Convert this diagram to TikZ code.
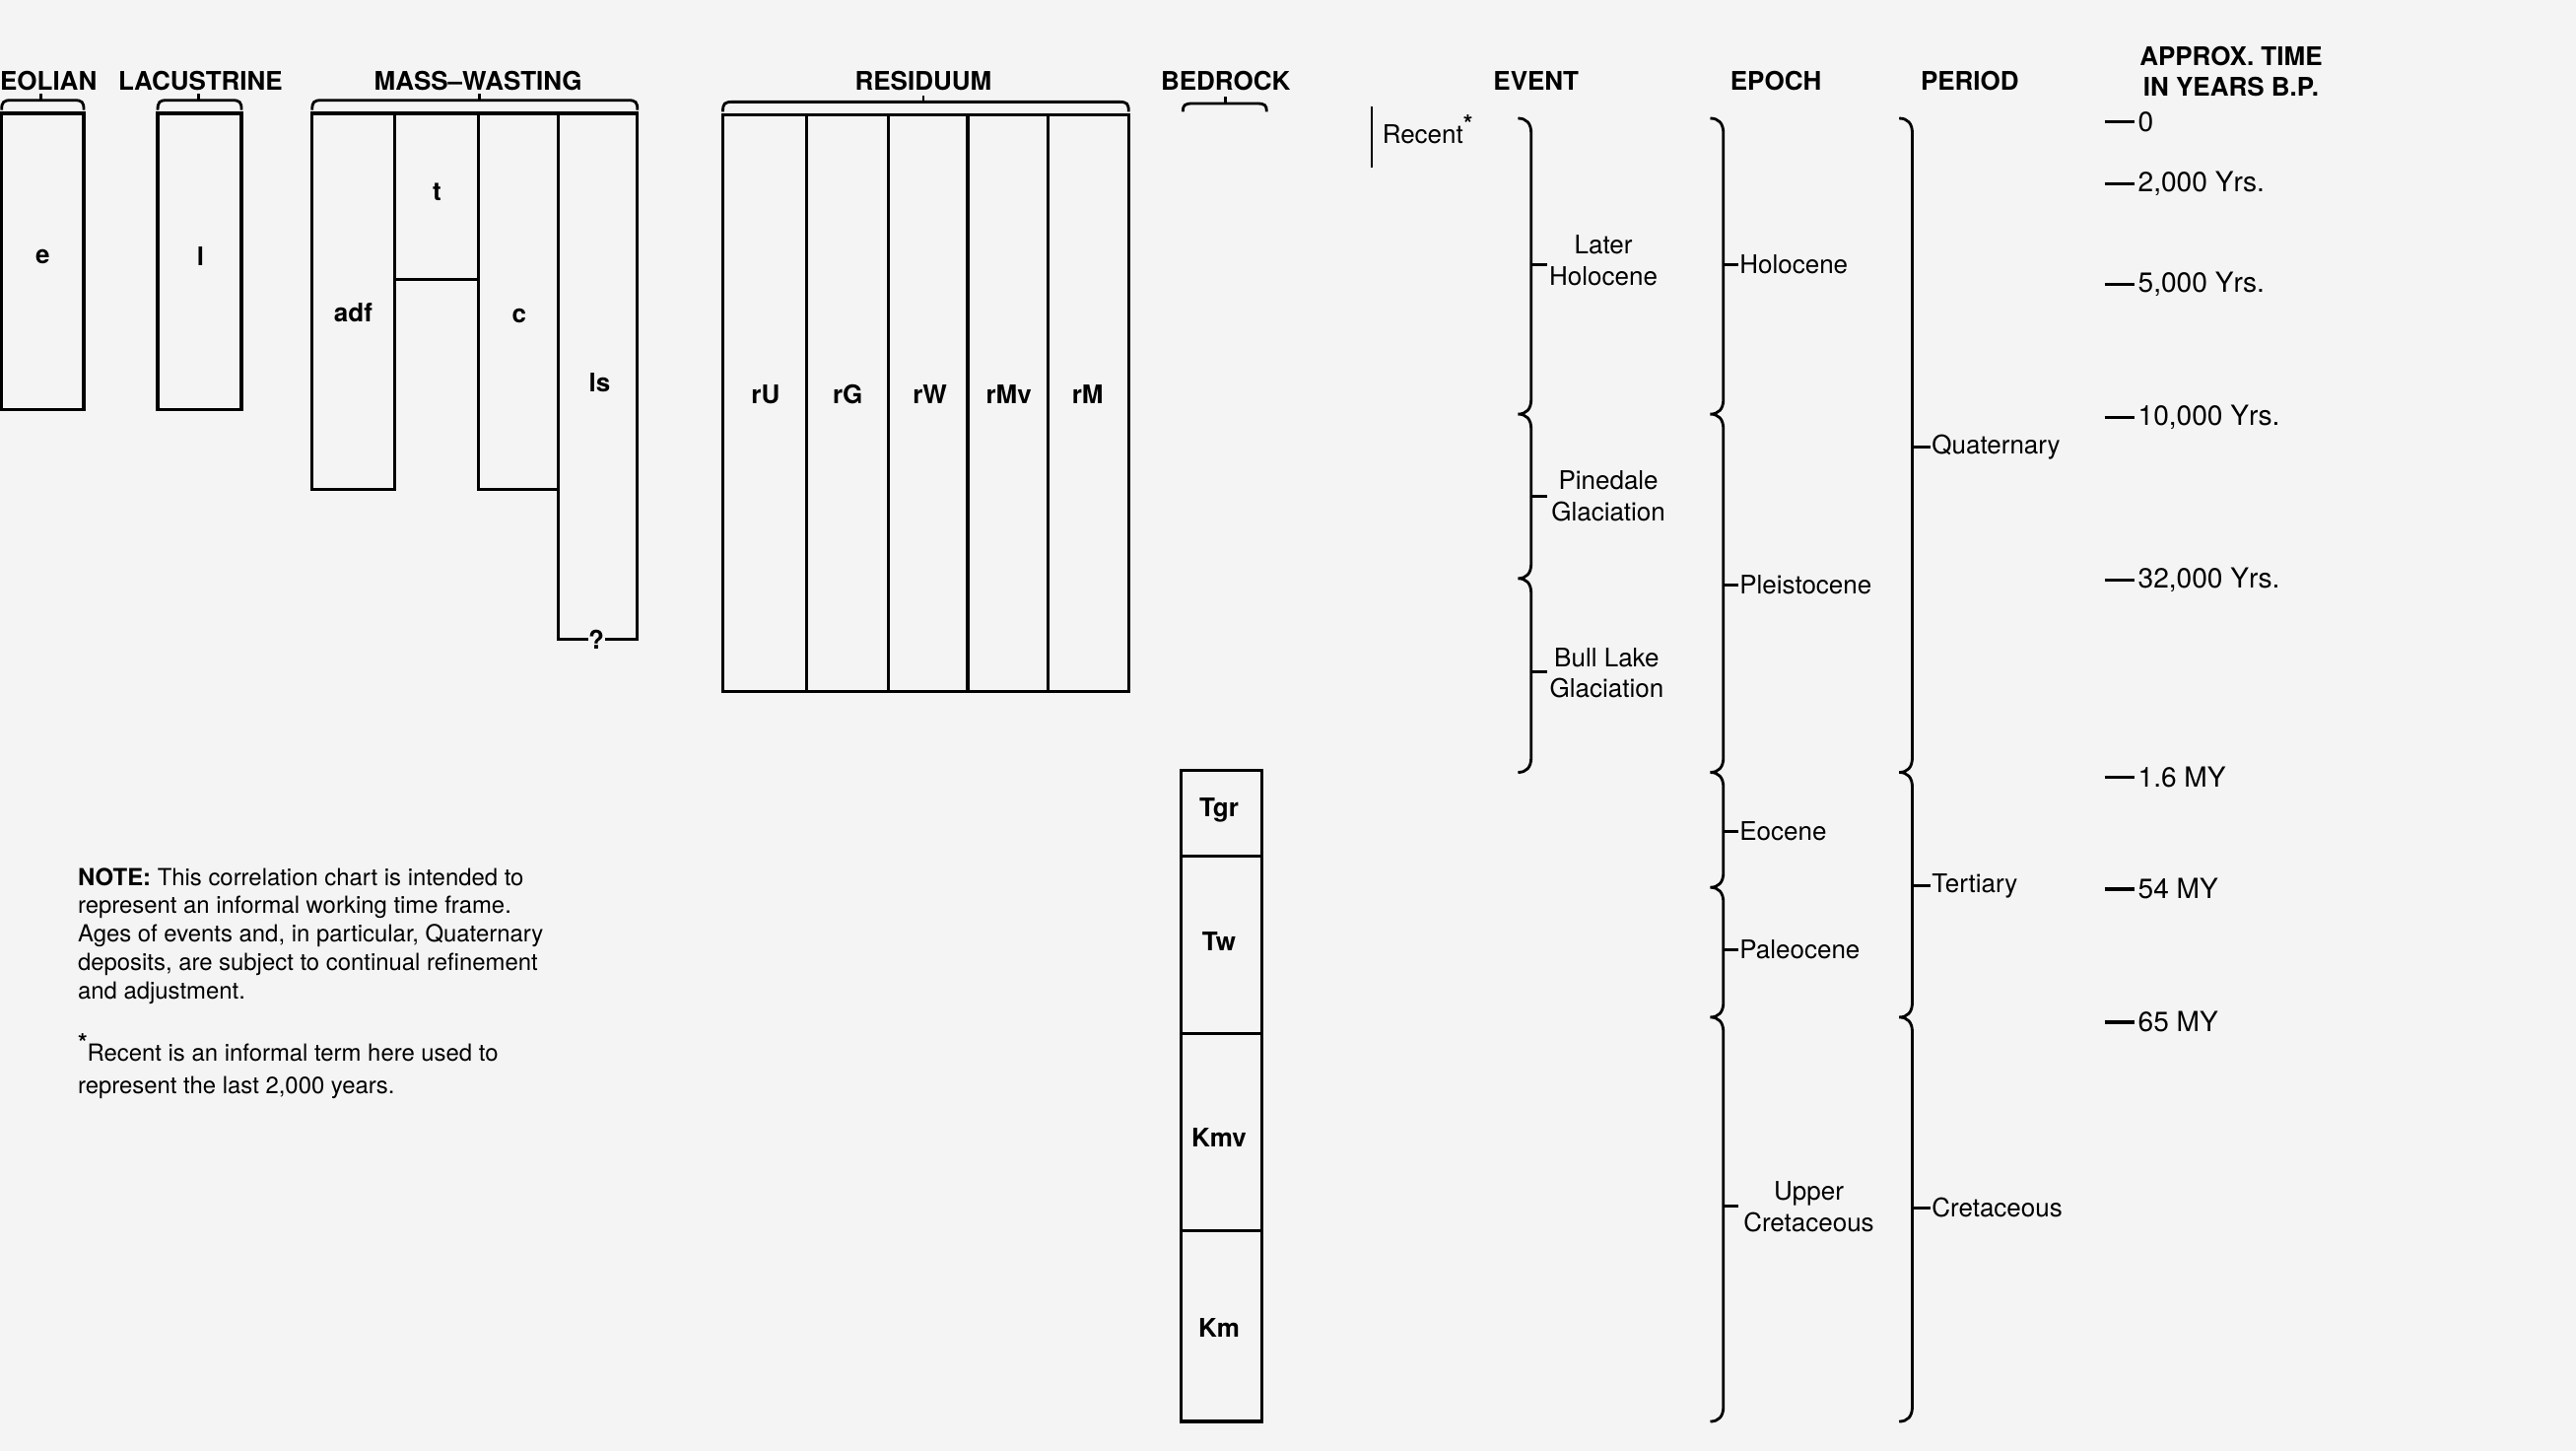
\documentclass[tikz,border=0pt]{standalone}
\usepackage{fontspec}
\setmainfont{TeX Gyre Heros}
\definecolor{bgc}{RGB}{244,244,244}
\newcommand{\bxtop}[2]{(#1-8,#2) .. controls (#1-3,#2) and (#1,#2+3) .. (#1,#2+9)}
\newcommand{\bxcusp}[2]{-- (#1,#2-9) .. controls (#1,#2-3) and (#1-3,#2) .. (#1-8,#2) .. controls (#1-3,#2) and (#1,#2+3) .. (#1,#2+9)}
\newcommand{\bxbot}[2]{-- (#1,#2-9) .. controls (#1,#2-3) and (#1-3,#2) .. (#1-8,#2)}
\newcommand{\hbr}[5]{\draw[brc] (#1,#4) .. controls (#1,#3+1) and (#1+1,#3) .. (#1+6,#3) -- (#2-6,#3) .. controls (#2-1,#3) and (#2,#3+1) .. (#2,#4); \draw[brc] (#5,#3) -- (#5,#3-4);}
\newcommand{\astr}{\raisebox{0.42em}{\fontsize{7}{7}\selectfont\bfseries *}}
\begin{document}
\begin{tikzpicture}[x=0.016671cm,y=-0.016671cm,
  box/.style={line width=0.9pt},
  brc/.style={line width=0.8pt},
  hdr/.style={font=\fontsize{7.4}{9}\selectfont\bfseries, inner sep=0pt, align=center},
  lbl/.style={font=\fontsize{7.4}{9}\selectfont\bfseries, inner sep=0pt},
  txt/.style={font=\fontsize{7.4}{9}\selectfont, inner sep=0pt, align=center},
  tim/.style={font=\fontsize{8}{9}\selectfont, inner sep=0pt, anchor=west},
  nt/.style={font=\fontsize{6.8}{8.2}\selectfont, inner sep=0pt, anchor=base west}]
\fill[bgc] (0,0) rectangle (1568,883);
\useasboundingbox (0,0) rectangle (1568,883);

% headers
\node[hdr] (hEol) at (29.5,49) {EOLIAN};
\node[hdr] (hLac) at (122,49) {LACUSTRINE};
\node[hdr] (hMass) at (291,49) {MASS--WASTING};
\node[hdr] (hRes) at (562,49) {RESIDUUM};
\node[hdr] (hBed) at (746,49) {BEDROCK};
\node[hdr] (hEvt) at (935,49) {EVENT};
\node[hdr] (hEpo) at (1081,49) {EPOCH};
\node[hdr] (hPer) at (1199,49) {PERIOD};
\node[hdr] (hTim) at (1358,43.5) {APPROX. TIME\\IN YEARS B.P.};

% group brackets
\hbr{1}{51}{61}{67}{25}
\hbr{96}{147}{61}{67}{121}
\hbr{190}{388}{61}{67}{292}
\hbr{440}{687}{62}{68}{562}
\hbr{720}{771}{63}{68}{746}

% eolian, lacustrine
\draw[box] (1,69) rectangle (51,249);
\node[lbl] (e) at (26,156) {e};
\draw[box] (96,69) rectangle (147,249);
\node[lbl] (l) at (122,156) {l};

% mass-wasting
\draw[box] (190,69) rectangle (240,298);
\draw[box] (240,69) rectangle (291,170);
\draw[box] (291,69) rectangle (340,298);
\node[lbl] (q) at (363,389) {?};
\draw[box] (q.west) -- (340,389) -- (340,69) -- (388,69) -- (388,389) -- (q.east);
\node[lbl] (adf) at (215,190) {adf};
\node[lbl] (t) at (266,117) {t};
\node[lbl] (c) at (316,192) {c};
\node[lbl] (ls) at (365,233) {ls};

% residuum
\draw[box] (440,70) rectangle (687,421);
\foreach \xx in {491,541,589,638} \draw[box] (\xx,70) -- (\xx,421);
\node[lbl] (rU) at (466,240) {rU};
\node[lbl] (rG) at (516,240) {rG};
\node[lbl] (rW) at (566,240) {rW};
\node[lbl] (rMv) at (614,240) {rMv};
\node[lbl] (rM) at (662,240) {rM};

% bedrock
\draw[box] (719,469) rectangle (768,865);
\foreach \yy in {521,629,749} \draw[box] (719,\yy) -- (768,\yy);
\node[lbl] (Tgr) at (742,493) {Tgr};
\node[lbl] (Tw) at (742,573) {Tw};
\node[lbl] (Kmv) at (742,692) {Kmv};
\node[lbl] (Km) at (742,808) {Km};

% recent
\draw[brc] (835,65) -- (835,102);
\node[txt, anchor=base west] (rec) at (841,87.5) {Recent\astr};

% event brace
\draw[brc] \bxtop{932}{72} \bxcusp{932}{252} \bxcusp{932}{352} \bxbot{932}{470};
\draw[brc] (932,161) -- (942,161);
\draw[brc] (932,302) -- (942,302);
\draw[brc] (932,409) -- (942,409);
\node[txt] (ev1) at (976,158.5) {Later\\Holocene};
\node[txt] (ev2) at (979,302) {Pinedale\\Glaciation};
\node[txt] (ev3) at (978,409.5) {Bull Lake\\Glaciation};

% epoch brace
\draw[brc] \bxtop{1049}{72} \bxcusp{1049}{252} \bxcusp{1049}{470} \bxcusp{1049}{540} \bxcusp{1049}{619} \bxbot{1049}{865};
\foreach \yy in {161,356,506,578,734} \draw[brc] (1049,\yy) -- (1058,\yy);
\node[txt, anchor=west] (ep1) at (1058.5,161) {Holocene};
\node[txt, anchor=west] (ep2) at (1058.5,356) {Pleistocene};
\node[txt, anchor=west] (ep3) at (1058.5,506) {Eocene};
\node[txt, anchor=west] (ep4) at (1058.5,578) {Paleocene};
\node[txt] (ep5) at (1101,734.5) {Upper\\Cretaceous};

% period brace
\draw[brc] \bxtop{1164}{72} \bxcusp{1164}{470} \bxcusp{1164}{619} \bxbot{1164}{865};
\foreach \yy in {272,539,735} \draw[brc] (1164,\yy) -- (1175,\yy);
\node[txt, anchor=west] (pe1) at (1175.5,272) {Quaternary};
\node[txt, anchor=west] (pe2) at (1175.5,539) {Tertiary};
\node[txt, anchor=west] (pe3) at (1175.5,735) {Cretaceous};

% time scale
\foreach \yy/\tt/\nn in {74/0/ta,112/{2,000 Yrs.}/tb,173/{5,000 Yrs.}/tc,254/{10,000 Yrs.}/td,353/{32,000 Yrs.}/te,473/{1.6 MY}/tf,541/{54 MY}/tg,622/{65 MY}/th}{
  \draw[line width=1pt] (1281,\yy) -- (1299,\yy);
  \node[tim] (\nn) at (1301,\yy) {\tt};
}

% note
\node[nt] (n1) at (47,539) {\textbf{NOTE:} This correlation chart is intended to};
\node[nt] (n2) at (47,556) {represent an informal working time frame.};
\node[nt] (n3) at (47,573) {Ages of events and, in particular, Quaternary};
\node[nt] (n4) at (47,590.5) {deposits, are subject to continual refinement};
\node[nt] (n5) at (47,608) {and adjustment.};
\node[nt] (n6) at (47,646) {\astr Recent is an informal term here used to};
\node[nt] (n7) at (47,665.5) {represent the last 2,000 years.};
\end{tikzpicture}
\end{document}
